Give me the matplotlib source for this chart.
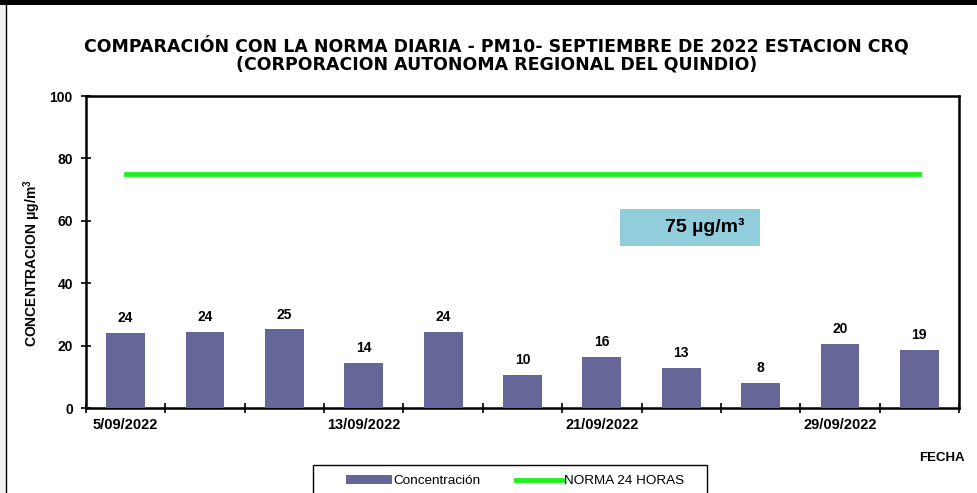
import matplotlib
matplotlib.use("Agg")
import matplotlib.pyplot as plt
from matplotlib.patches import Rectangle
from matplotlib.lines import Line2D

# datos PM10 estacion CRQ, septiembre 2022
fechas = ["5/09/2022", "", "", "13/09/2022", "", "", "21/09/2022", "", "", "29/09/2022", ""]
concentracion = [24.1, 24.4, 25.2, 14.45, 24.45, 10.5, 16.3, 12.9, 8.1, 20.5, 18.7]
norma = 75

plt.rcParams['font.family'] = ['Liberation Sans', 'DejaVu Sans']

fig = plt.figure(figsize=(9.77, 4.93), dpi=100)
ax = fig.add_axes([86/977, 1 - 408/493, (959 - 86)/977, (408 - 96)/493])

x = list(range(len(concentracion)))
ax.bar(x, concentracion, width=0.49, color='#666699', zorder=3)
ax.plot([x[0], x[-1]], [norma, norma], color='#22ee22', lw=3.5, zorder=4)

for xi, v in zip(x, concentracion):
    ax.text(xi, v + 2.5, f"{v:.0f}", ha='center', va='bottom', fontsize=10, fontweight='bold')

ax.set_xlim(-0.5, len(x) - 0.5)
ax.set_ylim(0, 100)
ax.set_yticks([0, 20, 40, 60, 80, 100])
ax.set_xticks([i - 0.5 for i in range(len(x) + 1)])
ax.set_xticklabels([])
ax.set_xticks(x, minor=True)
ax.set_xticklabels(fechas, minor=True, fontweight='bold', fontsize=10.5)
ax.tick_params(axis='x', which='minor', length=0, pad=7)
ax.tick_params(axis='x', which='major', direction='inout', length=7, width=1.2)
ax.tick_params(axis='y', direction='inout', length=7, width=1.2, pad=6)
for lab in ax.get_yticklabels():
    lab.set_fontweight('bold')
    lab.set_fontsize(10)
for s in ax.spines.values():
    s.set_linewidth(1.8)

ax.set_ylabel(r"CONCENTRACION $\mathregular{\mu g/m^3}$", fontsize=10, fontweight='bold')
ax.yaxis.set_label_coords(-(86 - 43) / 873, (408 - 263) / 312)

# cuadro con el valor de la norma
ax.add_patch(Rectangle((6.23, 51.9), 1.76, 11.9, fc='#92cddc', ec='none', zorder=5))
ax.text(7.3, 58, "75 µg/m³", fontsize=14, fontweight='bold', ha='center', va='center', zorder=6)

fig.text(0.508, 1 - 55/493, "COMPARACIÓN CON LA NORMA DIARIA - PM10- SEPTIEMBRE DE 2022 ESTACION CRQ\n"
         "(CORPORACION AUTONOMA REGIONAL DEL QUINDIO)",
         ha='center', va='center', fontsize=12.5, fontweight='bold', linespacing=1.0,
         family='DejaVu Sans')

fig.text(942/977, 1 - 458/493, "FECHA", ha='center', va='center', fontsize=9.5, fontweight='bold')

# leyenda
fig.patches.append(Rectangle((313/977, -0.05), (707 - 313)/977, 0.05 + 28/493,
                             transform=fig.transFigure, fc='white', ec='black', lw=1.0))
handles = [Rectangle((0, 0), 1, 1, fc='#666699'),
           Line2D([0], [0], color='#22ee22', lw=3.5)]
leg = fig.legend(handles, ["Concentración", "NORMA 24 HORAS"], ncol=2,
                 loc='center left', bbox_to_anchor=(346/977, 1 - 481/493),
                 frameon=False, fontsize=9.7, handlelength=3.4, handleheight=0.6,
                 handletextpad=0.15, columnspacing=2.6, borderpad=0, borderaxespad=0)

# marco de la figura
fig.patches.append(Rectangle((0, 0), 6/977, 1, transform=fig.transFigure, fc='#f0f0f0', ec='none'))
fig.lines.append(Line2D([6/977, 6/977], [0, 1], transform=fig.transFigure, color='black', lw=1))
fig.patches.append(Rectangle((0, 1 - 5/493), 1, 5/493, transform=fig.transFigure, fc='black', ec='none'))

fig.savefig("out.png", dpi=100)
